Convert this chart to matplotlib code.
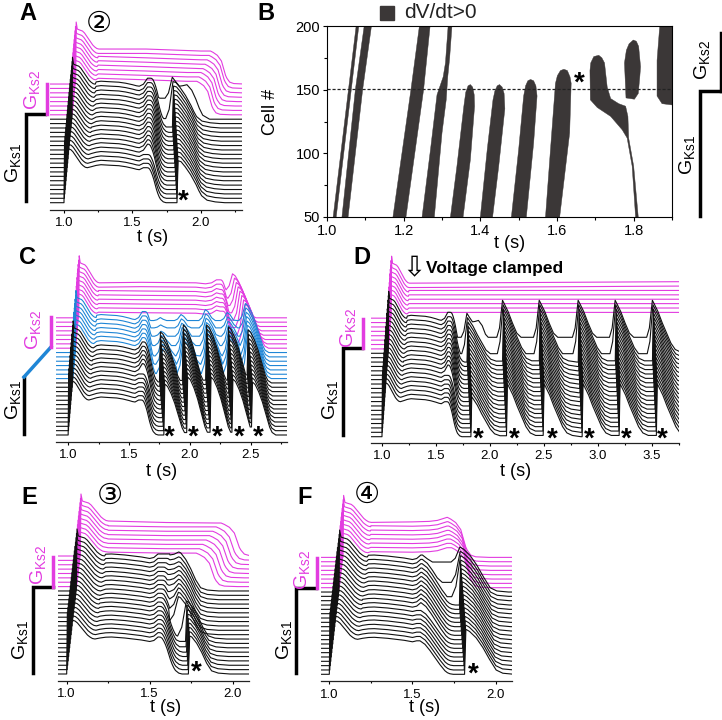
import numpy as np
import matplotlib
matplotlib.use("Agg")
import matplotlib.pyplot as plt
from matplotlib.ticker import MultipleLocator

plt.rcParams['font.family'] = ['Liberation Sans', 'DejaVu Sans']
plt.rcParams['mathtext.fontset'] = 'custom'
plt.rcParams['mathtext.rm'] = 'Liberation Sans'

W, H = 722, 720
BLACK = '#111111'
MAGENTA = '#e23ce0'
BLUE = '#1f86d6'
BAND = '#3b3737'

# shared action potential shape (s after upstroke, height)
ap_dt = [0.004, 0.012, 0.03, 0.05, 0.065, 0.08, 0.095, 0.11, 0.125, 0.14, 0.155, 0.17]
ap_h = [62, 55, 54, 53, 51, 48, 45, 42, 39, 37, 35.5, 35]

# repolarisation shapes
fall_dt = [0, 0.01, 0.02, 0.03, 0.04, 0.05, 0.06, 0.07, 0.08, 0.09, 0.10, 0.12, 0.14]
fall_h = [41.5, 41.3, 40, 37, 33, 28, 22, 16, 11, 7, 4, 1, 0]
fall_m_dt = [0, 0.02, 0.05, 0.08, 0.09, 0.10, 0.11, 0.12, 0.14, 0.17, 0.25]
fall_m_h = [34.5, 33, 30, 24, 19, 14, 9, 6, 2, 0.5, 0]
fall_f_dt = [0, 0.03, 0.06, 0.09, 0.12, 0.15, 0.165, 0.18, 0.2]
fall_f_h = [38, 34, 27, 19, 11, 4, 1.8, 0.6, 0]

# decay after a re-excitation, one per panel
decay_a_dt = [0.008, 0.03, 0.06, 0.08, 0.10, 0.12, 0.14, 0.16, 0.18, 0.22, 0.28, 0.35]
decay_a_h = [42, 41, 36, 32, 28, 23, 18, 12, 7, 2.5, 0.8, 0]
decay_top_dt = [0.008, 0.03, 0.06, 0.085, 0.115, 0.15, 0.18, 0.205, 0.23, 0.28]
decay_top_h = [42, 38, 33, 33.5, 34.5, 29, 20, 11, 4, 0]
decay_c_dt = [0.008, 0.03, 0.06, 0.09, 0.12, 0.15, 0.17, 0.2]
decay_c_h = [42, 40, 34, 26, 16, 6, 2, 0]
decay_d_dt = [0.008, 0.02, 0.06, 0.10, 0.14, 0.18, 0.22, 0.27, 0.35]
decay_d_h = [42, 40, 33, 24, 16, 8, 3, 1, 0]
decay_e_dt = [0.008, 0.02, 0.05, 0.08, 0.11, 0.14, 0.18, 0.25]
decay_e_h = [42, 41, 34, 24, 12, 3.5, 1, 0]
decay_f_dt = [0.008, 0.03, 0.07, 0.11, 0.15, 0.19, 0.23, 0.30]
decay_f_h = [42, 40, 34, 25, 14, 4, 1, 0]

# plateaus (absolute time, height)
plat_t = [1.2, 1.235, 1.27, 1.33, 1.4, 1.45, 1.5, 1.53, 1.55, 1.58, 1.61]
plat_h = [36, 37.3, 38, 37.5, 37, 36, 34.5, 33.4, 33, 35, 41]
plat_ef_t = [1.17, 1.2, 1.235, 1.27, 1.35, 1.45, 1.5, 1.525, 1.55]
plat_ef_h = [34, 36, 36.8, 37, 36, 34, 32.5, 33.5, 37]

# panel A
a_up = [1.000, 1.003, 1.006, 1.009, 1.012, 1.015, 1.018, 1.021, 1.024, 1.027,
        1.030, 1.033, 1.036, 1.039, 1.042, 1.045, 1.049, 1.052, 1.055, 1.058,
        1.061, 1.064, 1.067, 1.070, 1.073, 1.076, 1.080, 1.085]
a_fall = [1.605, 1.607, 1.608, 1.61, 1.611, 1.612, 1.614, 1.615, 1.616, 1.618,
          1.619, 1.62, 1.621, 1.622, 1.623, 1.624, 1.625, 1.626, 1.628, 1.63,
          1.97, 1.985, 2.0, 2.015, 2.03, 2.045, 2.06, 2.07]
a_trough = [0, 0, 0, 0, 0, 0, 0, 0, 0, 0, 0, 0, 0, 0, 0, 0, 0, 1, 5, 21]
a_lag = [0, -0.001, -0.003, -0.005, -0.007, -0.009, -0.011, -0.013, -0.015, -0.017,
         -0.019, -0.021, -0.023, -0.025, -0.027, -0.029, -0.031, -0.033, -0.037, -0.042]
a_beats = [1.825]
a_peaks = [42]
a_plat_m_t = [1.25, 1.6, 1.9, 2.0, 2.07]
a_plat_m_h = [36.5, 35, 33.5, 33, 34.5]

# panel C
c_up = [1.000, 1.003, 1.006, 1.009, 1.012, 1.015, 1.018, 1.021, 1.024, 1.027,
        1.031, 1.034, 1.037, 1.040, 1.043, 1.047, 1.050, 1.053, 1.057, 1.060,
        1.063, 1.066, 1.069, 1.072, 1.075, 1.078, 1.082, 1.087]
c_fall = [1.60, 1.602, 1.603, 1.605, 1.606, 1.608, 1.61, 1.611, 1.613, 1.615,
          1.616, 1.618, 1.62, 1.62, 1.622, 1.624, 1.626, 1.628, 1.63, 1.63,
          2.27, 2.27, 2.265, 2.26, 2.26, 2.255, 2.25, 2.25]
c_trough = [0, 0, 0, 0, 0, 0, 0, 0, 0, 0, 0, 0, 0, 5, 10, 14, 20, 25, 29, 32,
            6, 9, 12, 15, 18, 21, 24, 28]
c_lag = [0, -0.003, -0.006, -0.009, -0.012, -0.015, -0.018, -0.021, -0.024, -0.027,
         -0.03, -0.033, -0.036, 0.02, 0.016, 0.012, 0.009, 0.006, 0.003, 0]
c_beats = [1.787, 1.975, 2.167, 2.347, 2.508]
c_peaks = [51, 58, 58, 56, 53]
c_blue_beats = [1.75, 1.92, 2.12, 2.30, 2.45]
c_blue_peaks = [30, 38, 43, 40, 49]
c_mag_beat = [2.448, 2.435, 2.42, 2.405, 2.39, 2.375, 2.36, 2.344]
c_plat_m_t = [1.25, 1.6, 2.05, 2.13, 2.18, 2.22, 2.25]
c_plat_m_h = [36, 35.5, 35, 34, 35, 38, 37]

# panel D
d_up = [1.000, 1.003, 1.006, 1.009, 1.012, 1.015, 1.018, 1.021, 1.024, 1.027,
        1.030, 1.033, 1.036, 1.039, 1.042, 1.045, 1.049, 1.052, 1.055, 1.058,
        1.061, 1.064, 1.067, 1.070, 1.073, 1.076, 1.080, 1.085]
d_fall = [1.60, 1.602, 1.603, 1.605, 1.606, 1.608, 1.61, 1.611, 1.613, 1.615,
          1.616, 1.618, 1.62, 1.621, 1.622, 1.624, 1.625, 1.626, 1.628, 1.63]
d_trough = [0, 0, 0, 0, 0, 0, 0, 0, 0, 0, 0, 0, 0, 0, 0, 0, 0, 0, 4, 16]
d_lag = [0, -0.002, -0.004, -0.006, -0.008, -0.01, -0.012, -0.014, -0.016, -0.018,
         -0.02, -0.022, -0.024, -0.026, -0.028, -0.03, -0.033, -0.036, -0.04, -0.045]
d_beats = [1.824, 2.154, 2.494, 2.855, 3.198, 3.543]
d_peaks = [40, 53, 53, 53, 53, 53]
d_plat_m_t = [1.25, 3.8]
d_plat_m_h = [36.5, 36.5]

# panel E
e_up = [1.000, 1.003, 1.006, 1.009, 1.012, 1.015, 1.018, 1.021, 1.024, 1.027,
        1.030, 1.033, 1.036, 1.039, 1.042, 1.045, 1.049, 1.052, 1.055, 1.058,
        1.061, 1.064, 1.067, 1.070, 1.073, 1.076, 1.079, 1.082]
e_fall = [1.555, 1.556, 1.557, 1.558, 1.559, 1.56, 1.56, 1.56, 1.56, 1.565,
          1.565, 1.57, 1.57, 1.575, 1.575, 1.58, 1.58, 1.59, 1.6, 1.62,
          1.78, 1.80, 1.82, 1.84, 1.86, 1.88, 1.90, 1.93]
e_trough = [0, 0, 0, 0, 0, 0, 1, 2, 3, 14, 22, 27, 30, 32, 33, 34, 34.5, 35, 35.5, 36]
e_lag = [0, -0.002, -0.004, -0.006, -0.008, -0.011, -0.014, -0.017, -0.02, -0.068,
         -0.068, -0.068, -0.067, -0.067, -0.067, -0.066, -0.066, -0.066, -0.066, -0.066]
e_beats = [1.733]
e_peaks = [38]
e_plat_m_t = [1.25, 1.6, 1.9, 1.95]
e_plat_m_h = [34.5, 33.5, 33, 33]

# panel F
f_up = [1.000, 1.003, 1.006, 1.009, 1.012, 1.015, 1.018, 1.021, 1.024, 1.027,
        1.030, 1.033, 1.036, 1.039, 1.042, 1.045, 1.049, 1.052, 1.055, 1.058,
        1.061, 1.064, 1.067, 1.070, 1.073, 1.076, 1.079, 1.082]
f_fall = [1.545, 1.546, 1.547, 1.548, 1.548, 1.549, 1.55, 1.55, 1.551, 1.552,
          1.552, 1.553, 1.554, 1.555, 1.556, 1.556, 1.557, 1.558, 1.559, 1.56,
          1.735, 1.732, 1.728, 1.725, 1.72, 1.718, 1.714, 1.71]
f_trough = [0, 0, 0, 0, 0, 0, 0, 0, 0, 0, 0, 0, 0, 0, 0, 0, 0, 4, 14, 30]
f_lag = [0, -0.002, -0.004, -0.006, -0.008, -0.01, -0.012, -0.014, -0.016, -0.018,
         -0.02, -0.022, -0.024, -0.026, -0.028, -0.03, -0.031, -0.032, -0.034, -0.036]
f_beats = [1.813]
f_peaks = [45]
f_plat_m_t = [1.25, 1.5, 1.6, 1.65, 1.707]
f_plat_m_h = [36, 35.5, 36, 37, 40]

# panel B, outlines of the dV/dt>0 regions
band_t = [
    [1.016, 1.076, 1.083, 1.024],
    [1.039, 1.074, 1.097, 1.116, 1.093, 1.055],
    [1.172, 1.219, 1.241, 1.269, 1.252, 1.206],
    [1.248, 1.27, 1.287, 1.303, 1.309, 1.316, 1.326, 1.32, 1.315, 1.311, 1.30, 1.28],
    [1.322, 1.339, 1.357, 1.362, 1.368, 1.374, 1.380, 1.384, 1.385, 1.374, 1.355],
    [1.40, 1.418, 1.433, 1.438, 1.444, 1.45, 1.457, 1.462, 1.464, 1.448, 1.432],
    [1.481, 1.50, 1.513, 1.518, 1.524, 1.531, 1.539, 1.545, 1.548, 1.539, 1.52],
    [1.57, 1.583, 1.596, 1.601, 1.609, 1.618, 1.627, 1.634, 1.637, 1.633, 1.607],
    [1.812, 1.80, 1.787, 1.785, 1.779, 1.761, 1.74, 1.731, 1.724, 1.717, 1.709, 1.696, 1.688, 1.686,
     1.687, 1.705, 1.74, 1.77, 1.783, 1.796, 1.805],
    [1.799, 1.788, 1.781, 1.776, 1.78, 1.802, 1.812, 1.816, 1.818, 1.813, 1.807],
    [1.868, 1.861, 1.861, 1.874, 1.90, 1.90],
]
band_cell = [
    [50, 200, 200, 50],
    [50, 150, 200, 200, 150, 50],
    [50, 150, 200, 200, 150, 50],
    [50, 103, 146, 160, 171, 200, 200, 175, 160, 142, 116, 50],
    [50, 90, 137, 148, 153, 154, 152, 146, 137, 95, 50],
    [50, 103, 142, 149, 153, 154, 152, 147, 135, 90, 50],
    [50, 103, 145, 153, 157, 158, 157, 153, 145, 108, 50],
    [50, 103, 155, 161, 165, 166, 165, 160, 155, 116, 50],
    [50, 90, 112, 129, 137, 139, 143, 152, 171, 175, 177, 176, 171, 165,
     142, 136, 129, 118.5, 112, 90, 50],
    [189, 186, 181, 171, 143.5, 142.5, 147, 160, 168, 184, 188],
    [200, 173, 145, 139, 138, 200],
]
dash_cell = 150.7


def trace(up, plateau_t, plateau_h, fall_at, fall, trough, beats, peaks, decay, decay_first=None):
    t = [0.0, up]
    h = [0.0, 0.0]
    t += [up + d for d in ap_dt]
    h += list(ap_h)
    for pt, ph in zip(plateau_t, plateau_h):
        if pt > t[-1] and (fall_at is None or pt < fall_at):
            t.append(pt)
            h.append(ph)
    if fall_at is not None:
        start = h[-1]
        scale = start / fall[1][0]
        for d, fh in zip(fall[0], fall[1]):
            t.append(fall_at + d)
            h.append(max(fh * scale, trough))
    for k, b in enumerate(beats):
        floor = trough if k < len(beats) - 1 else 0
        peak = max(peaks[k], trough + 3)
        cut = b - 0.045 if trough >= 3 else b
        keep = [i for i in range(len(t)) if t[i] < cut]
        t = [t[i] for i in keep]
        h = [h[i] for i in keep]
        if trough >= 3:
            t += [cut, b - 0.02]
            h += [trough, trough + 0.25 * (peak - trough)]
        else:
            t.append(b)
            h.append(h[-1])
        shape = decay_first if (decay_first is not None and k == 0) else decay
        for d, dh in zip(shape[0], shape[1]):
            t.append(b + d)
            h.append(max(dh * peak / shape[1][0], floor))
    t.append(6.0)
    h.append(h[-1])
    return np.array(t), np.array(h)


def trace_axes(left, right, spine, xlim):
    top = spine - 205
    ax = fig.add_axes([left / W, 1 - spine / H, (right - left) / W, (spine - top) / H])
    ax.set_xlim(*xlim)
    ax.set_ylim(0, spine - top)
    ax.patch.set_alpha(0)
    for s in ['top', 'left', 'right']:
        ax.spines[s].set_visible(False)
    ax.spines['bottom'].set_linewidth(0.9)
    ax.spines['bottom'].set_color('#222222')
    ax.set_yticks([])
    ax.xaxis.set_major_locator(MultipleLocator(0.5))
    ax.xaxis.set_minor_locator(MultipleLocator(0.25))
    ax.xaxis.set_major_formatter(lambda v, p: f'{v:.1f}')
    ax.tick_params(axis='x', which='major', length=2.5, width=0.8, labelsize=9.5, pad=3)
    ax.tick_params(axis='x', which='minor', length=1.5, width=0.8)
    return ax


def xlabel(ax, left, right, spine, cx, cy):
    ax.set_xlabel('t (s)', fontsize=13)
    ax.xaxis.set_label_coords((cx - left) / (right - left), -(cy - spine) / 205)
    ax.xaxis.label.set_verticalalignment('center')


fig = plt.figure(figsize=(W / 100, H / 100), dpi=100)

LW = 0.8

# ---- A
ax = trace_axes(50.3, 242, 209.5, (0.9, 2.3))
y0, dy = 209.5 - 202.7, 4.395
for i in range(20, 28):
    t, h = trace(a_up[i], a_plat_m_t, a_plat_m_h, a_fall[i], (fall_m_dt, fall_m_h), 0, [], [], None)
    ax.plot(t, y0 + i * dy + h, color=MAGENTA, lw=LW)
for i in range(20):
    first = (decay_top_dt, decay_top_h) if i == 19 else None
    t, h = trace(a_up[i], plat_t, plat_h, a_fall[i], (fall_dt, fall_h), a_trough[i],
                 [b + a_lag[i] for b in a_beats], a_peaks, (decay_a_dt, decay_a_h), first)
    ax.plot(t, y0 + i * dy + h, color=BLACK, lw=LW)
xlabel(ax, 50.3, 242, 209.5, 153, 238)

# ---- C
ax = trace_axes(56, 287, 441.7, (0.9, 2.8))
y0, dy = 441.7 - 435, 4.34
for i in range(20, 28):
    t, h = trace(c_up[i], c_plat_m_t, c_plat_m_h, c_fall[i], (fall_dt, fall_h), c_trough[i],
                 [c_mag_beat[i - 20]], [44], (decay_c_dt, decay_c_h))
    ax.plot(t, y0 + i * dy + h, color=MAGENTA, lw=LW)
for i in range(13, 20):
    t, h = trace(c_up[i], plat_t, plat_h, c_fall[i], (fall_dt, fall_h), c_trough[i],
                 [b + c_lag[i] for b in c_blue_beats], c_blue_peaks, (decay_c_dt, decay_c_h))
    ax.plot(t, y0 + i * dy + h, color=BLUE, lw=LW)
for i in range(13):
    t, h = trace(c_up[i], plat_t, plat_h, c_fall[i], (fall_dt, fall_h), 0,
                 [b + c_lag[i] for b in c_beats], c_peaks, (decay_c_dt, decay_c_h))
    ax.plot(t, y0 + i * dy + h, color=BLACK, lw=LW)
xlabel(ax, 56, 287, 441.7, 162, 471)

# ---- D
ax = trace_axes(371.2, 678.7, 442.7, (0.9, 3.75))
y0, dy = 442.7 - 436.7, 4.39
for i in range(20, 28):
    t, h = trace(d_up[i], d_plat_m_t, d_plat_m_h, None, None, 0, [], [], None)
    ax.plot(t, y0 + i * dy + h, color=MAGENTA, lw=LW)
for i in range(20):
    first = (decay_top_dt, decay_top_h) if i == 19 else None
    t, h = trace(d_up[i], plat_t, plat_h, d_fall[i], (fall_dt, fall_h), d_trough[i],
                 [b + d_lag[i] for b in d_beats], d_peaks, (decay_d_dt, decay_d_h), first)
    ax.plot(t, y0 + i * dy + h, color=BLACK, lw=LW)
xlabel(ax, 371.2, 678.7, 442.7, 516, 472)

# ---- E
ax = trace_axes(58.4, 249.3, 680.7, (0.95, 2.1))
y0, dy = 680.7 - 674, 4.37
for i in range(20, 28):
    t, h = trace(e_up[i], e_plat_m_t, e_plat_m_h, e_fall[i], (fall_m_dt, fall_m_h), 0, [], [], None)
    ax.plot(t, y0 + i * dy + h, color=MAGENTA, lw=LW)
for i in range(20):
    t, h = trace(e_up[i], plat_ef_t, plat_ef_h, e_fall[i], (fall_dt, fall_h), e_trough[i],
                 [b + e_lag[i] for b in e_beats], e_peaks, (decay_e_dt, decay_e_h))
    ax.plot(t, y0 + i * dy + h, color=BLACK, lw=LW)
xlabel(ax, 58.4, 249.3, 680.7, 166, 708)

# ---- F
ax = trace_axes(321, 512.3, 681.3, (0.95, 2.1))
y0, dy = 681.3 - 674.3, 4.33
for i in range(20, 28):
    t, h = trace(f_up[i], f_plat_m_t, f_plat_m_h, f_fall[i], (fall_m_dt, fall_m_h), 0, [], [], None)
    ax.plot(t, y0 + i * dy + h, color=MAGENTA, lw=LW)
for i in range(20):
    t, h = trace(f_up[i], plat_ef_t, plat_ef_h, f_fall[i], (fall_f_dt, fall_f_h), f_trough[i],
                 [b + f_lag[i] for b in f_beats], f_peaks, (decay_f_dt, decay_f_h))
    ax.plot(t, y0 + i * dy + h, color=BLACK, lw=LW)
xlabel(ax, 321, 512.3, 681.3, 425, 708)

# ---- B
ax = fig.add_axes([327 / W, 1 - 217 / H, 345 / W, 191 / H])
for xs, ys in zip(band_t, band_cell):
    ax.fill(xs, ys, color=BAND, lw=0.3)
ax.axhline(dash_cell, color='#222222', lw=0.9, ls=(0, (2.5, 1.5)))
ax.set_xlim(1.0, 1.9)
ax.set_ylim(50, 200)
ax.xaxis.set_major_locator(MultipleLocator(0.2))
ax.xaxis.set_minor_locator(MultipleLocator(0.1))
ax.yaxis.set_major_locator(MultipleLocator(50))
ax.yaxis.set_minor_locator(MultipleLocator(25))
ax.tick_params(which='major', length=3, width=0.8, labelsize=10.5, pad=2)
ax.tick_params(which='minor', length=2, width=0.8)
for s in ax.spines.values():
    s.set_linewidth(0.8)
ax.set_ylabel('Cell #', fontsize=13)
ax.yaxis.set_label_coords(-48 / 345, 0.55)
ax.set_xlabel('t (s)', fontsize=13)
ax.xaxis.set_label_coords((510 - 327) / 345, -26 / 191)
ax.xaxis.label.set_verticalalignment('center')

# ---- overlay in pixel coordinates: brackets, labels, asterisks
ov = fig.add_axes([0, 0, 1, 1], zorder=10)
ov.set_xlim(0, W)
ov.set_ylim(H, 0)
ov.axis('off')
ov.patch.set_alpha(0)

BR = 2.5
ov.plot([26, 26, 45], [201, 114, 114], color='k', lw=BR, solid_joinstyle='miter')
ov.plot([46.5, 46.5], [84, 114], color=MAGENTA, lw=BR)
ov.plot([700, 700, 721], [216, 91, 91], color='k', lw=BR, solid_joinstyle='miter')
ov.plot([721, 721], [91, 33], color='k', lw=BR)
ov.plot([24, 24], [434, 377], color='k', lw=BR)
ov.plot([24, 51], [377, 347], color=BLUE, lw=BR)
ov.plot([51, 51], [347, 317], color=MAGENTA, lw=BR)
ov.plot([343, 343, 362], [435, 348, 348], color='k', lw=BR, solid_joinstyle='miter')
ov.plot([363, 363], [348, 319], color=MAGENTA, lw=BR)
ov.plot([33, 33, 53], [673, 587, 587], color='k', lw=BR, solid_joinstyle='miter')
ov.plot([53, 53], [557, 587], color=MAGENTA, lw=BR)
ov.plot([296, 296, 316], [673, 588, 588], color='k', lw=BR, solid_joinstyle='miter')
ov.plot([317, 317], [558, 588], color=MAGENTA, lw=BR)

G1 = r'G$_{\mathrm{Ks1}}$'
G2 = r'G$_{\mathrm{Ks2}}$'
for x, y in [(14, 163), (688, 155), (14, 400), (331, 400), (21, 640), (285, 640)]:
    ov.text(x, y, G1, rotation=90, ha='center', va='center', fontsize=14, color='k')
for x, y in [(33, 90), (34, 330), (349, 328), (39, 565), (303, 570)]:
    ov.text(x, y, G2, rotation=90, ha='center', va='center', fontsize=14, color=MAGENTA)
ov.text(703, 60, G2, rotation=90, ha='center', va='center', fontsize=14, color='k')

for s, x, y in [('A', 28, 14), ('B', 266, 14), ('C', 28, 257), ('D', 362, 257), ('E', 29, 498), ('F', 305, 498)]:
    ov.text(x, y, s, ha='center', va='center', fontsize=17, fontweight='bold')
for s, x, y in [('②', 99, 24), ('③', 110, 496), ('④', 367, 495)]:
    ov.text(x, y, s, ha='center', va='center', fontsize=21, family='DejaVu Sans')

star_x = [183, 169, 193, 217, 239, 258, 478, 514, 552, 589, 626, 662, 196, 473, 579]
star_y = [197, 433, 433, 433, 433, 433, 435, 435, 435, 435, 435, 435, 668, 670, 79]
for x, y in zip(star_x, star_y):
    ov.text(x, y + 5, '*', ha='center', va='center', fontsize=20, fontweight='bold')

ov.plot([387], [13], marker='s', ms=10.5, color=BAND, ls='none')
ov.text(404, 12, 'dV/dt>0', ha='left', va='center', fontsize=15, color='#222222')
ov.text(426, 268, 'Voltage clamped', ha='left', va='center', fontsize=12.5, fontweight='bold')
ov.text(414, 268, '⇩', ha='center', va='center', fontsize=20, family='DejaVu Sans')

fig.savefig('out.png', dpi=100)
